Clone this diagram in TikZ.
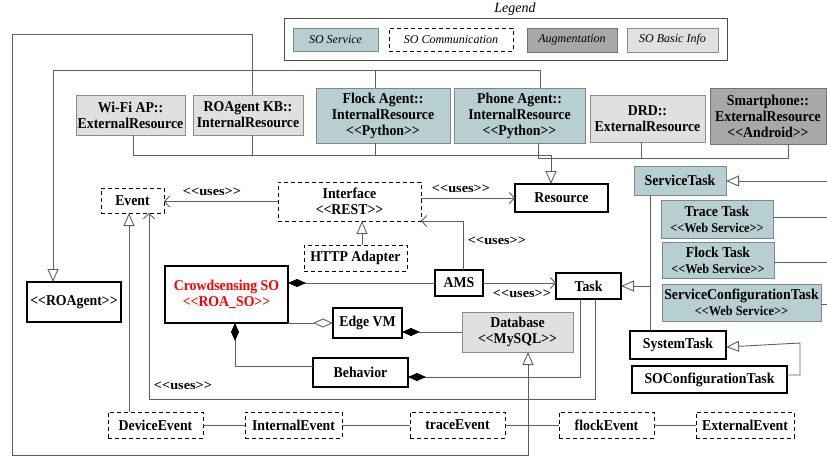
\documentclass[tikz,border=0pt]{standalone}
\usepackage{fontspec}
\setmainfont{Liberation Serif}[Ligatures=TeXOff]
\newfontfamily\titlefont{Liberation Serif}[Ligatures=TeXOff,FakeStretch=0.92]
\newfontfamily\widefont{Liberation Serif}[Ligatures=TeXOff,FakeStretch=1.1]
\usetikzlibrary{arrows.meta}
\definecolor{svcfill}{RGB}{184,207,210}
\definecolor{augfill}{RGB}{168,168,168}
\definecolor{infofill}{RGB}{224,224,224}
\definecolor{wirecol}{RGB}{95,95,95}
\definecolor{svcedge}{RGB}{125,135,137}
\newcommand{\wsnote}{{\fontsize{13.4}{15}\selectfont <<Web Service>>}}
\begin{document}
\begin{tikzpicture}[x=1pt,y=-1pt,
  every node/.style={inner sep=0pt,outer sep=0pt,align=center,
    font=\titlefont\bfseries\fontsize{15}{16}\selectfont},
  plainbox/.style={draw=black,line width=1.1pt,fill=white},
  commbox/.style={draw=black,line width=1pt,dash pattern=on 4pt off 3pt,fill=white},
  svcbox/.style={draw=svcedge,line width=1pt,fill=svcfill},
  augbox/.style={draw=black!55,line width=1pt,fill=augfill},
  infobox/.style={draw=black!45,line width=1pt,fill=infofill},
  wh/.style 2 args={minimum width=#1,minimum height=#2},
  wire/.style={draw=wirecol,line width=0.9pt},
  gen/.style={wire,-{Triangle[open,length=13,width=11,fill=white]}},
  uses/.style={wire,-{Straight Barb[length=5,width=11]}},
  comp/.style={wire,{Diamond[length=18,width=8,color=black]}-},
  aggr/.style={wire,-{Diamond[open,length=20,width=9,fill=white]}},
  lbl/.style={font=\widefont\bfseries\fontsize{13}{15}\selectfont},
  legitem/.style={font=\mdseries\itshape\fontsize{12}{14}\selectfont},
]
\useasboundingbox (0,0) rectangle (827,458);

% legend
\node[font=\itshape\fontsize{14}{16}\selectfont] (legtitle) at (515,9) {Legend};
\node[draw=black!70,line width=0.9pt,wh={443}{42}] (legend) at (505.5,39) {};
\node[svcbox,legitem,wh={85}{23}] (lgsvc) at (335.5,39.5) {SO Service};
\node[commbox,legitem,wh={124}{23}] (lgcomm) at (451,39.5) {SO Communication};
\node[augbox,legitem,wh={90}{24}] (lgaug) at (572,40) {Augmentation};
\node[infobox,legitem,wh={91}{24}] (lginfo) at (672.5,40) {SO Basic Info};

% resources
\node[infobox,wh={109}{40}] (wifi) at (130.5,115) {Wi-Fi AP::\\ExternalResource};
\node[infobox,wh={110}{40}] (kb) at (248,115) {ROAgent KB::\\InternalResource};
\node[svcbox,wh={134}{55}] (flockagent) at (383,115.5) {Flock Agent::\\InternalResource\\<<Python>>};
\node[svcbox,wh={131}{55}] (phoneagent) at (519.5,115.5) {Phone Agent::\\InternalResource\\<<Python>>};
\node[infobox,wh={115}{47}] (drd) at (647.5,118.5) {DRD::\\ExternalResource};
\node[augbox,wh={116}{56}] (smartphone) at (768,116) {Smartphone::\\ExternalResource\\<<Android>>};

% core classes
\node[plainbox,wh={93}{28}] (resource) at (561.5,198) {Resource};
\node[commbox,wh={143}{39}] (interface) at (349.5,201.5) {Interface\\<<REST>>};
\node[commbox,wh={63}{25}] (event) at (132.5,200.5) {Event};
\node[commbox,wh={103}{26}] (http) at (355.5,258) {HTTP Adapter};
\node[plainbox,wh={48}{26}] (ams) at (459,283) {AMS};
\node[plainbox,wh={65}{26}] (task) at (588.5,286) {Task};
\node[plainbox,wh={123}{57},text=red] (crowd) at (226.5,294.5) {Crowdsensing SO\\<<ROA\_SO>>};
\node[plainbox,wh={94}{40}] (roagent) at (74,302) {<<ROAgent>>};
\node[plainbox,wh={69}{30}] (edgevm) at (367.5,323) {Edge VM};
\node[infobox,wh={111}{40}] (database) at (517.5,332) {Database\\<<MySQL>>};
\node[plainbox,wh={95}{29}] (behavior) at (360.5,372.5) {Behavior};

% tasks
\node[svcbox,wh={92}{29}] (servicetask) at (680,180.5) {ServiceTask};
\node[svcbox,wh={112}{38}] (tracetask) at (717,219) {Trace Task\\\wsnote};
\node[svcbox,wh={112}{36}] (flocktask) at (718,260) {Flock Task\\\wsnote};
\node[svcbox,wh={159}{37}] (sctask) at (741.5,302.5) {ServiceConfigurationTask\\\wsnote};
\node[plainbox,wh={96}{28}] (systemtask) at (678,345) {SystemTask};
\node[plainbox,wh={155}{27}] (soconftask) at (709.5,379.5) {SOConfigurationTask};

% events
\node[commbox,wh={95}{26}] (deviceevent) at (155.5,425) {DeviceEvent};
\node[commbox,wh={97}{26}] (internalevent) at (293.5,425) {InternalEvent};
\node[commbox,wh={95}{26}] (traceevent) at (457.5,425) {traceEvent};
\node[commbox,wh={95}{26}] (flockevent) at (606.5,425) {flockEvent};
\node[commbox,wh={98}{26}] (externalevent) at (745,425) {ExternalEvent};

% free ends at the right border
\coordinate (svcin) at (827,181);
\coordinate (traceout) at (827,219);
\coordinate (flockout) at (827,260);
\coordinate (scout) at (827,304);

% knowledge base loop to the database
\draw[gen] ([xshift=4]kb.north) -- ++(0,-61) -| (12,455) -| ([xshift=10.5]database.south);
% agents specialise ROAgent
\draw[gen] ([xshift=20.5]phoneagent.north) |- (53,70) -- ([xshift=-21]roagent.north);
\draw[wire] ([xshift=-7.5]flockagent.north) -- ++(0,-18);
% resource bus
\draw[wire] ([xshift=2.5]wifi.south) |- (551,155);
\draw[wire] ([xshift=4]kb.south) -- ++(0,20);
\draw[wire] ([xshift=-7.5]flockagent.south) -- ++(0,12);
\draw[wire] ([xshift=18.5]phoneagent.south) -- ++(0,15) -- (788,158) -- ([xshift=20]smartphone.south);
\draw[wire] ([xshift=-6.5]drd.south) -- ++(0,16);
\draw[gen] (551,155) -- ([xshift=-10.5]resource.north);

% uses relations
\draw[uses] (interface.west) -- (interface.west -| event.east);
\node[lbl] (u1) at (212,192) {<<uses>>};
\draw[uses] (interface.east |- resource.west) -- (resource.west);
\node[lbl] (u2) at (461,189) {<<uses>>};
\draw[gen] ([xshift=6.5]http.north) -- ([xshift=6.5]http.north |- interface.south);
\draw[uses] ([xshift=4]ams.north) |- (interface.south east);
\node[lbl] (u3) at (497,241) {<<uses>>};
\draw[uses] (ams.east) -- (ams.east -| task.west);
\node[lbl] (u4) at (522,294) {<<uses>>};

% composition and aggregation
\draw[comp] (crowd.east |- ams.west) -- (ams.west);
\draw[aggr] (crowd.south east) -- (crowd.south east -| edgevm.west);
\draw[comp] (edgevm.east |- database.west) -- (database.west);
\draw[comp] ([xshift=8.5]crowd.south) |- ([yshift=6.5]behavior.west);
\draw[comp] ([yshift=-4.5]behavior.east) -| ([xshift=-8.5]task.south);

% task uses events
\draw[uses] ([xshift=6.5]task.south) |- (149,399) -- ([xshift=16.5]event.south);
\node[lbl] (u5) at (183,386) {<<uses>>};
\draw[gen] ([xshift=-26.5]deviceevent.north) -- ([xshift=-3.5]event.south);

% event chain
\draw[wire] (deviceevent) -- (internalevent);
\draw[wire] (internalevent) -- (traceevent);
\draw[wire] (traceevent) -- (flockevent);
\draw[wire] (flockevent) -- (externalevent);

% task hierarchy
\draw[gen] (svcin) -- (servicetask.east |- svcin);
\draw[wire] ([yshift=2]tracetask.east) -- ([yshift=2]traceout);
\draw[wire] ([yshift=-2]flocktask.east) -- ([yshift=-2]flockout);
\draw[wire] (sctask.east |- scout) -- (scout);
\draw[wire] ([xshift=-30]servicetask.south) -- ([xshift=-28]systemtask.north);
\draw[gen] ([xshift=-30]servicetask.south |- task.east) -- (task.east);
\draw[gen] ([yshift=4.5]soconftask.east) -| (800,343) -- ([yshift=-2]systemtask.east);
\end{tikzpicture}
\end{document}
